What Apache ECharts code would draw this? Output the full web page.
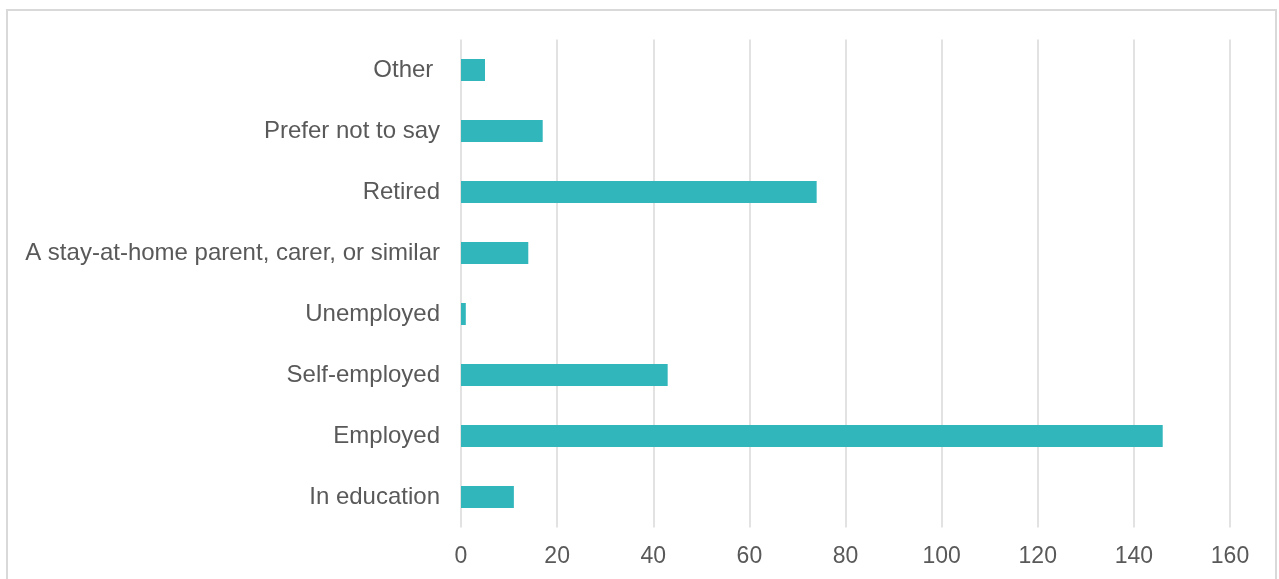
<!DOCTYPE html>
<html>
<head>
<meta charset="utf-8">
<script src="https://cdn.jsdelivr.net/npm/echarts@6/dist/echarts.min.js"></script>
<style>
  html, body { margin: 0; padding: 0; background: #fff; }
  #frame { position: absolute; left: 6px; top: 9px; width: 1271px; height: 600px; border: 2px solid #d9d9d9; box-sizing: border-box; }
  #chart { position: absolute; left: 0; top: 0; width: 1279px; height: 579px; }
</style>
</head>
<body>
<div id="frame"></div>
<div id="chart"></div>
<script>
// Employment status of respondents (counts), listed bottom to top
const categories = [
  'In education',
  'Employed',
  'Self-employed',
  'Unemployed',
  'A stay-at-home parent, carer, or similar',
  'Retired',
  'Prefer not to say',
  'Other '
];
const counts = [11, 146, 43, 1, 14, 74, 17, 5];
const xTicks = { min: 0, max: 160, interval: 20 };

const chart = echarts.init(document.getElementById('chart'), null, { renderer: 'canvas' });
chart.setOption({
  animation: false,
  textStyle: { fontFamily: 'Liberation Sans, Arial, sans-serif' },
  grid: { left: 461, right: 49, top: 39.5, bottom: 51.5, containLabel: false },
  xAxis: {
    type: 'value',
    min: xTicks.min,
    max: xTicks.max,
    interval: xTicks.interval,
    axisLine: { show: false },
    axisTick: { show: false },
    splitLine: { show: true, lineStyle: { color: '#d9d9d9', width: 1.5 } },
    axisLabel: { color: '#595959', fontSize: 23, margin: 18 }
  },
  yAxis: {
    type: 'category',
    data: categories,
    axisLine: { show: false },
    axisTick: { show: false },
    axisLabel: { color: '#595959', fontSize: 24, margin: 21, padding: [2, 0, 0, 0] }
  },
  series: [{
    type: 'bar',
    data: counts,
    barWidth: '36%',
    itemStyle: { color: '#31b6bc' }
  }]
});
</script>
</body>
</html>
